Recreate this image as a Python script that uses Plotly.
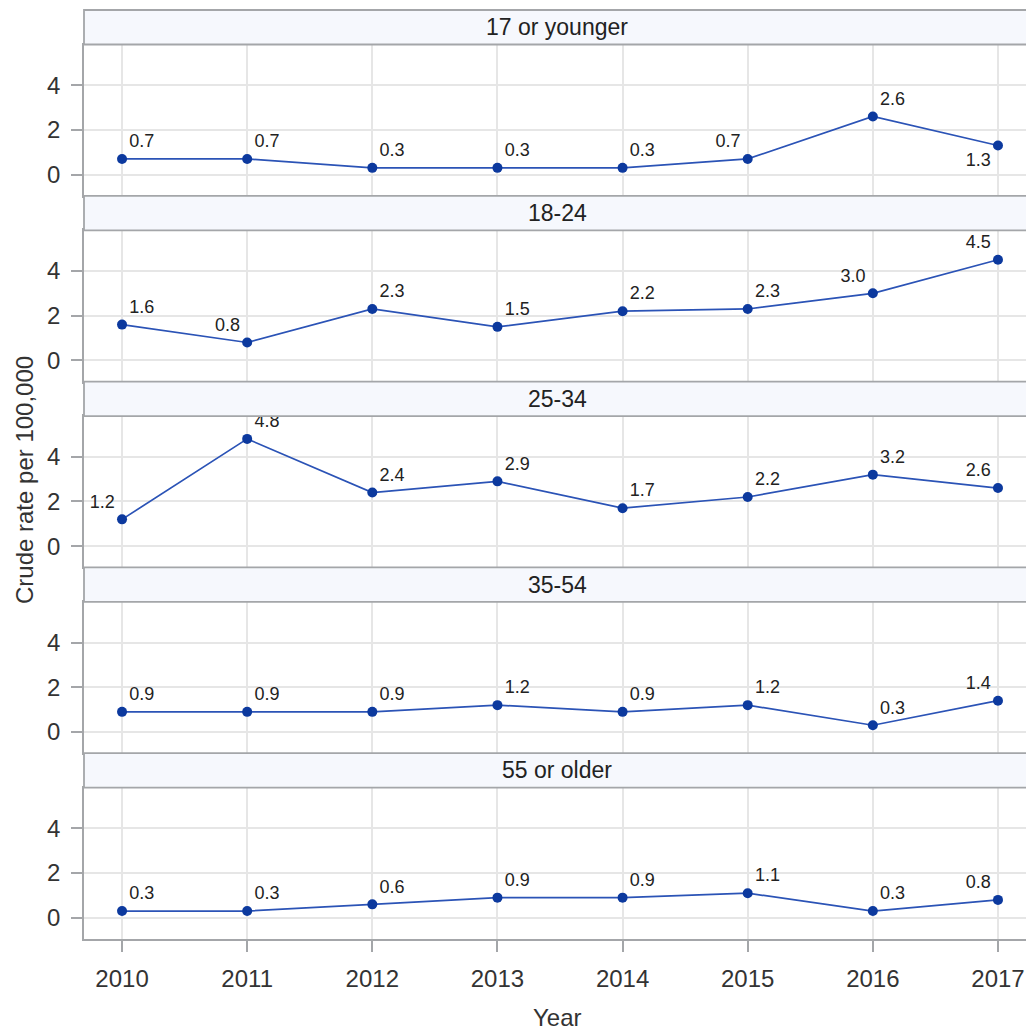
import plotly.graph_objects as go

# ---- data -------------------------------------------------------------
years = [2010, 2011, 2012, 2013, 2014, 2015, 2016, 2017]
age_groups = ["17 or younger", "18-24", "25-34", "35-54", "55 or older"]

rate_17_or_younger = [0.7, 0.7, 0.3, 0.3, 0.3, 0.7, 2.6, 1.3]
rate_18_24 = [1.6, 0.8, 2.3, 1.5, 2.2, 2.3, 3.0, 4.5]
rate_25_34 = [1.2, 4.8, 2.4, 2.9, 1.7, 2.2, 3.2, 2.6]
rate_35_54 = [0.9, 0.9, 0.9, 1.2, 0.9, 1.2, 0.3, 1.4]
rate_55_or_older = [0.3, 0.3, 0.6, 0.9, 0.9, 1.1, 0.3, 0.8]

y_ticks = [0, 2, 4]
x_title = "Year"
y_title = "Crude rate per 100,000"

series = [rate_17_or_younger, rate_18_24, rate_25_34, rate_35_54, rate_55_or_older]

# where each point label sits relative to its marker (avoids collisions)
TR, TL, BL = "top right", "top left", "bottom left"
label_positions = [
    [TR, TR, TR, TR, TR, TL, TR, BL],
    [TR, TL, TR, TR, TR, TR, TL, TL],
    [TL, TR, TR, TR, TR, TR, TR, TL],
    [TR, TR, TR, TR, TR, TR, TR, TL],
    [TR, TR, TR, TR, TR, TR, TR, TL],
]

# ---- geometry (pixels) -------------------------------------------------
W, H = 1026, 1030
ML, MR, MT, MB = 84, 0, 10, 91
plot_h = H - MT - MB
pitch = plot_h / len(age_groups)
header_h = 34.5
y_range = [-0.95, 5.82]
x_range = [2009.696, 2017.224]


def frac(px):
    """page pixel row -> paper fraction"""
    return (H - MB - px) / plot_h


FONT = "Arial, 'Liberation Sans', sans-serif"
TEXT = "#333333"
FRAME = "#A4A6A9"
GRID = "#E6E6E6"
HEADER_FILL = "#F6F8FD"
LINE_COLOR = "#2B53B6"
MARKER_COLOR = "#0C399E"

fig = go.Figure()
shapes = []
annotations = []
layout_axes = {}

n = len(age_groups)
for i, (group, values, positions) in enumerate(zip(age_groups, series, label_positions)):
    k = "" if i == 0 else str(i + 1)
    top = MT + i * pitch
    dom = [frac(top + pitch), frac(top + header_h)]
    bottom_panel = i == n - 1

    fig.add_trace(go.Scatter(
        x=years, y=values,
        xaxis="x" + k, yaxis="y" + k,
        mode="lines+markers+text",
        line=dict(color=LINE_COLOR, width=1.7),
        marker=dict(color=MARKER_COLOR, size=10),
        text=[f"{v:.1f}" for v in values],
        textposition=positions,
        textfont=dict(family=FONT, size=18, color="#222222"),
        cliponaxis=True,
        showlegend=False,
        hoverinfo="x+y",
    ))

    layout_axes["xaxis" + k] = dict(
        domain=[0, 1], anchor="y" + k, range=x_range,
        tickmode="array", tickvals=years,
        ticktext=[str(y) for y in years],
        showticklabels=bottom_panel,
        ticks="outside" if bottom_panel else "",
        ticklen=11, tickwidth=1.5, tickcolor=FRAME,
        tickfont=dict(family=FONT, size=24, color=TEXT),
        ticklabelstandoff=6,
        showgrid=True, gridcolor=GRID, gridwidth=1.5,
        showline=True, linecolor=FRAME, linewidth=1.8, mirror=True,
        zeroline=False, fixedrange=True,
    )
    layout_axes["yaxis" + k] = dict(
        domain=dom, anchor="x" + k, range=y_range,
        tickmode="array", tickvals=y_ticks,
        ticks="outside", ticklen=11, tickwidth=1.5, tickcolor=FRAME,
        tickfont=dict(family=FONT, size=24, color=TEXT),
        ticklabelstandoff=6,
        showgrid=True, gridcolor=GRID, gridwidth=1.5,
        showline=True, linecolor=FRAME, linewidth=1.8,
        zeroline=False, fixedrange=True,
    )

    # panel header strip
    shapes.append(dict(
        type="rect", xref="paper", yref="paper",
        x0=0, x1=1.01, y0=frac(top + header_h), y1=frac(top),
        fillcolor=HEADER_FILL, line=dict(color=FRAME, width=1.8),
        layer="above",
    ))
    annotations.append(dict(
        text=group, xref="paper", yref="paper",
        x=(557 - ML) / (W - ML - MR), y=frac(top + header_h / 2),
        xanchor="center", yanchor="middle", showarrow=False,
        font=dict(family=FONT, size=23, color="#222222"),
    ))

# axis titles
annotations.append(dict(
    text=y_title, xref="paper", yref="paper",
    x=(25 - ML) / (W - ML - MR), y=frac(480),
    xanchor="center", yanchor="middle", textangle=-90, showarrow=False,
    font=dict(family=FONT, size=24, color=TEXT),
))
annotations.append(dict(
    text=x_title, xref="paper", yref="paper",
    x=(557 - ML) / (W - ML - MR), y=frac(1017),
    xanchor="center", yanchor="middle", showarrow=False,
    font=dict(family=FONT, size=24, color=TEXT),
))

fig.update_layout(
    width=W, height=H,
    margin=dict(l=ML, r=MR, t=MT, b=MB, pad=0),
    paper_bgcolor="white", plot_bgcolor="white",
    shapes=shapes, annotations=annotations,
    font=dict(family=FONT, color=TEXT),
    **layout_axes,
)

fig.write_html("out.html", config={"displayModeBar": False})
